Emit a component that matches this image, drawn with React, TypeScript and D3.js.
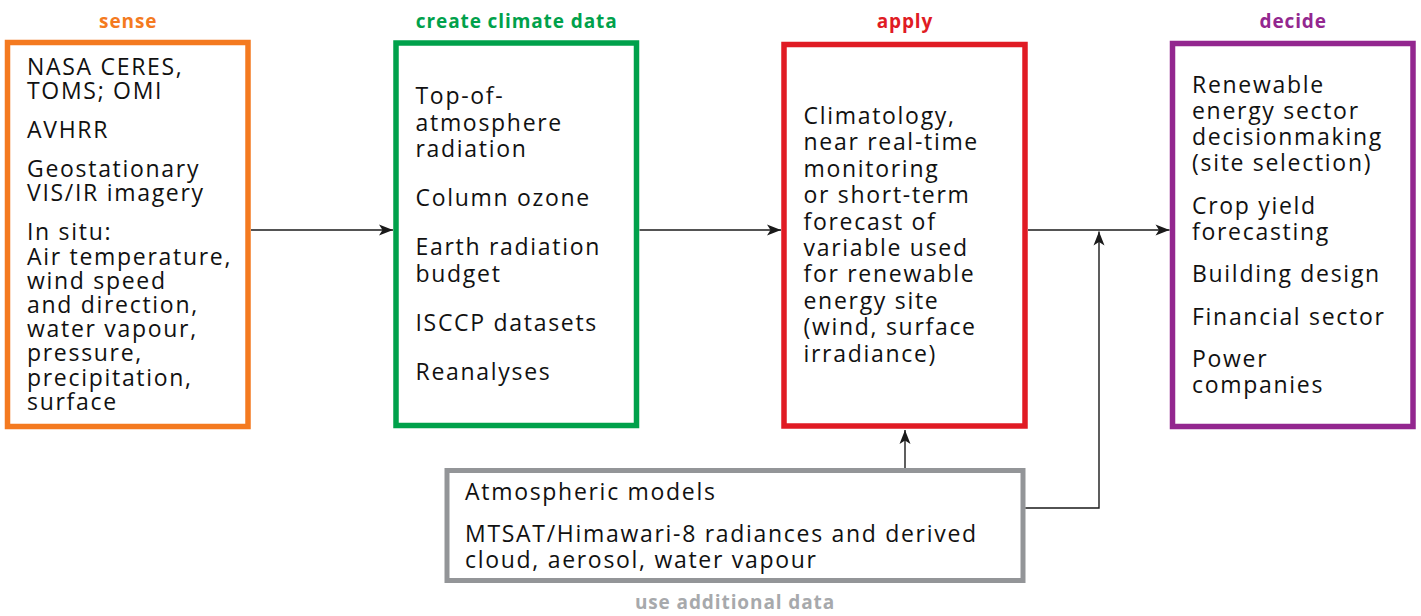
import React from "react";
import * as d3 from "d3";

// ---- Data ----
const stageTitles = ["sense", "create climate data", "apply", "decide"];
const stageColors = ["#f47a20", "#00a14b", "#e01b24", "#93278f"];
const senseItems = [
  ["NASA CERES,", "TOMS; OMI"],
  ["AVHRR"],
  ["Geostationary", "VIS/IR imagery"],
  ["In situ:", "Air temperature,", "wind speed", "and direction,", "water vapour,", "pressure,", "precipitation,", "surface"],
];
const createItems = [
  ["Top-of-", "atmosphere", "radiation"],
  ["Column ozone"],
  ["Earth radiation", "budget"],
  ["ISCCP datasets"],
  ["Reanalyses"],
];
const applyItems = [
  ["Climatology,", "near real-time", "monitoring", "or short-term", "forecast of", "variable used", "for renewable", "energy site", "(wind, surface", "irradiance)"],
];
const decideItems = [
  ["Renewable", "energy sector", "decisionmaking", "(site selection)"],
  ["Crop yield", "forecasting"],
  ["Building design"],
  ["Financial sector"],
  ["Power", "companies"],
];
const extraTitle = "use additional data";
const extraColor = "#939598";
const extraItems = [
  ["Atmospheric models"],
  ["MTSAT/Himawari-8 radiances and derived", "cloud, aerosol, water vapour"],
];
const stageItems = [senseItems, createItems, applyItems, decideItems];

// ---- Layout ----
const W = 1421;
const H = 616;
const FONT = "'Open Sans', 'DejaVu Sans', sans-serif";
const boxX = [7.5, 396, 784, 1172.5];
const boxW = [240.5, 240.5, 241, 240.5];
const boxTop = [42.5, 43, 44.5, 43.5];
const boxBottom = [426.5, 425.5, 426, 426.5];
const textFirst = [75, 104, 124, 93];
const textLH = [24.2, 26.5, 26.4, 26];
const textPara = [39, 49, 49, 42.5];
const extraBox = { x: 447, y: 470.5, w: 576, h: 110 };
const lineY = 230;
const BODY_SIZE = 23;
const BODY_LS = 1.7;
const TITLE_SIZE = 19;
const TITLE_LS = 0.9;

function layoutLines(paras: string[][], first: number, lh: number, para: number) {
  const out: { t: string; y: number }[] = [];
  let y = first;
  paras.forEach((p, pi) => {
    if (pi > 0) y += para - lh;
    p.forEach((t, i) => {
      if (i > 0 || pi > 0) y += lh;
      out.push({ t, y });
    });
  });
  return out;
}

const line = d3.line<[number, number]>();

function Arrowhead({ x, y, angle }: { x: number; y: number; angle: number }) {
  return (
    <path
      d="M0,0 L-14,-5.5 L-10.5,0 L-14,5.5 Z"
      fill="#1a1a1a"
      transform={`translate(${x},${y}) rotate(${angle})`}
    />
  );
}

export default function App() {
  const color = d3.scaleOrdinal<string, string>().domain(stageTitles).range(stageColors);
  const arrows: [number, number][][] = [
    [[boxX[0] + boxW[0] + 3, lineY], [boxX[1] - 3, lineY]],
    [[boxX[1] + boxW[1] + 3, lineY], [boxX[2] - 3, lineY]],
    [[boxX[2] + boxW[2] + 3, lineY], [boxX[3] - 3, lineY]],
  ];
  const upX = 905;
  const sideX = 1099;
  const sideY = 508;
  return (
    <svg
      width={W}
      height={H}
      style={{ position: "absolute", left: 0, top: 0, background: "#fff" }}
      fontFamily={FONT}
    >
      {stageTitles.map((title, i) => (
        <g key={title}>
          <text
            x={boxX[i] + boxW[i] / 2 + TITLE_LS / 2}
            y={27.5}
            textAnchor="middle"
            fontWeight={700}
            fontSize={TITLE_SIZE}
            letterSpacing={TITLE_LS}
            fill={color(title)}
          >
            {title}
          </text>
          <rect
            x={boxX[i]}
            y={boxTop[i]}
            width={boxW[i]}
            height={boxBottom[i] - boxTop[i]}
            fill="none"
            stroke={color(title)}
            strokeWidth={5.5}
          />
          {layoutLines(stageItems[i], textFirst[i], textLH[i], textPara[i]).map((l, j) => (
            <text
              key={j}
              x={boxX[i] + 19.5}
              y={l.y}
              fontSize={BODY_SIZE}
              letterSpacing={BODY_LS}
              fill="#111"
            >
              {l.t}
            </text>
          ))}
        </g>
      ))}
      <rect
        x={extraBox.x}
        y={extraBox.y}
        width={extraBox.w}
        height={extraBox.h}
        fill="none"
        stroke={extraColor}
        strokeWidth={5}
      />
      {layoutLines(extraItems, 500, 26, 42).map((l, j) => (
        <text
          key={j}
          x={extraBox.x + 18}
          y={l.y}
          fontSize={BODY_SIZE}
          letterSpacing={BODY_LS}
          fill="#111"
        >
          {l.t}
        </text>
      ))}
      <text
        x={735}
        y={609}
        textAnchor="middle"
        fontWeight={700}
        fontSize={TITLE_SIZE}
        letterSpacing={TITLE_LS}
        fill="#a7a9ac"
      >
        {extraTitle}
      </text>
      {arrows.map((a, i) => (
        <g key={i}>
          <path d={line(a) || ""} stroke="#1a1a1a" strokeWidth={1.4} fill="none" />
          <Arrowhead x={a[1][0]} y={a[1][1]} angle={0} />
        </g>
      ))}
      <path
        d={line([[upX, extraBox.y - 2.5], [upX, boxBottom[2] + 4]]) || ""}
        stroke="#1a1a1a"
        strokeWidth={1.4}
        fill="none"
      />
      <Arrowhead x={upX} y={boxBottom[2] + 4} angle={-90} />
      <path
        d={line([[extraBox.x + extraBox.w + 2.5, sideY], [sideX, sideY], [sideX, lineY + 1.5]]) || ""}
        stroke="#1a1a1a"
        strokeWidth={1.4}
        fill="none"
      />
      <Arrowhead x={sideX} y={lineY + 1.5} angle={-90} />
    </svg>
  );
}
